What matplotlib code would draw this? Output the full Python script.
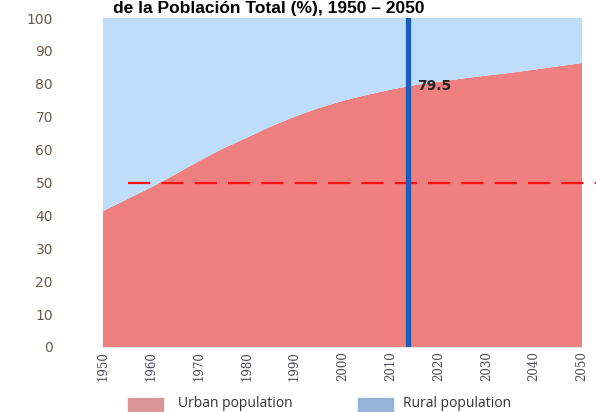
import numpy as np
import matplotlib
matplotlib.use('Agg')
import matplotlib.pyplot as plt
from matplotlib.patches import Rectangle

# Urban share of total population (%)
years = [1950, 1955, 1960, 1965, 1970, 1975, 1980, 1985, 1990, 1995, 2000,
         2005, 2010, 2015, 2020, 2025, 2030, 2035, 2040, 2045, 2050]
urban = [41.3, 44.9, 48.5, 52.4, 56.5, 60.3, 63.6, 67.0, 70.0, 72.6, 74.8,
         76.6, 78.2, 79.6, 80.6, 81.6, 82.5, 83.3, 84.3, 85.3, 86.3]
rural = [100 - u for u in urban]

x_ticks = list(range(1950, 2051, 10))
y_ticks = list(range(0, 101, 10))
marker_year = 2013.6
marker_label = '79.5'
threshold = 50
title = 'de la Población Total (%), 1950 – 2050'
legend_labels = ['Urban population', 'Rural population']

fig = plt.figure(figsize=(5.96, 4.12), dpi=100)
ax = fig.add_axes([103 / 596, 1 - 347 / 412, 479 / 596, 329 / 412])

ax.stackplot(years, urban, rural, colors=['#F08080', '#BDDDFB'], linewidth=0)

ax.axvline(marker_year, color='#1D5CBA', lw=3.8, zorder=4)
ax.plot([1955.2, 2052.9], [threshold, threshold], color='#FF1010', lw=1.6,
        dashes=(10, 5), clip_on=False, zorder=3)
ax.text(marker_year + 2.0, 79.3, marker_label, fontsize=10, fontweight='bold',
        color='#222222', va='center', ha='left', zorder=5)

ax.set_xlim(1950, 2050)
ax.set_ylim(0, 100)
ax.set_xticks(x_ticks)
ax.set_yticks(y_ticks)
ax.set_xticklabels([str(y) for y in x_ticks], rotation=90, fontsize=8.5,
                   color='#4a4a5a', family='DejaVu Serif')
ax.set_yticklabels([str(y) for y in y_ticks], fontsize=10, color='#6a5a4a')
ax.tick_params(axis='y', length=0, pad=36)
ax.tick_params(axis='x', length=0, pad=3)
for side in ['top', 'right', 'left']:
    ax.spines[side].set_visible(False)
ax.spines['bottom'].set_color('#e6e6e6')

fig.text(269 / 596, 1 - 12.5 / 412, title, ha='center', va='baseline',
         fontsize=12.5, fontweight='bold', family='Liberation Sans')

# legend along the bottom edge
leg_colors = ['#D99694', '#95B3D7']
leg_x = [128, 358]
txt_x = [178, 403]
for c, lx, tx, lab in zip(leg_colors, leg_x, txt_x, legend_labels):
    fig.patches.append(Rectangle((lx / 596, 0), 35 / 596, 14 / 412,
                                 transform=fig.transFigure, color=c))
    fig.text(tx / 596, 5 / 412, lab, fontsize=10, family='Open Sans',
             color='#333333', va='baseline')

fig.savefig('out.png', dpi=100)
